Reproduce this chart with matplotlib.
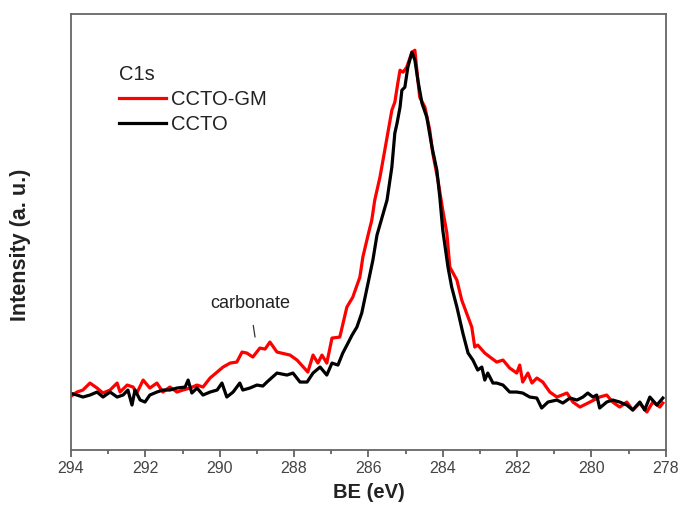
import matplotlib
matplotlib.use('Agg')
import matplotlib.pyplot as plt
from matplotlib.ticker import MultipleLocator

plt.rcParams['font.family'] = ['Liberation Sans', 'DejaVu Sans']

# C1s spectra (BE in eV, intensity in arbitrary units)
be_gm = [294.03, 293.84, 293.68, 293.49, 293.30, 293.14, 292.95, 292.76, 292.68, 292.49,
         292.33, 292.23, 292.06, 291.88, 291.69, 291.53, 291.34, 291.15, 290.99, 290.80,
         290.61, 290.45, 290.26, 290.07, 289.91, 289.72, 289.54, 289.40, 289.27, 289.11,
         288.92, 288.78, 288.65, 288.46, 288.11, 287.92, 287.63, 287.49, 287.36, 287.25,
         287.12, 286.98, 286.77, 286.58, 286.42, 286.23, 286.15, 286.01, 285.91, 285.83,
         285.69, 285.56, 285.37, 285.29, 285.21, 285.15, 285.07, 284.97, 284.83, 284.75,
         284.67, 284.62, 284.48, 284.35, 284.27, 284.13, 284.00, 283.89, 283.81, 283.62,
         283.49, 283.32, 283.22, 283.14, 283.06, 282.87, 282.73, 282.55, 282.38, 282.20,
         282.01, 281.93, 281.85, 281.71, 281.60, 281.47, 281.31, 281.12, 280.93, 280.66,
         280.50, 280.31, 280.04, 279.78, 279.59, 279.43, 279.24, 279.05, 278.89, 278.70,
         278.51, 278.35, 278.16, 278.08]
int_gm = [53, 58, 60, 67, 62, 57, 60, 67, 58, 65,
          63, 57, 70, 62, 67, 58, 63, 58, 60, 62,
          65, 63, 72, 78, 83, 87, 88, 98, 97, 93,
          102, 101, 108, 98, 95, 90, 78, 95, 87, 95,
          87, 112, 113, 143, 153, 173, 193, 215, 230, 250,
          273, 300, 340, 348, 367, 380, 378, 383, 398, 400,
          370, 353, 343, 320, 297, 270, 240, 217, 183, 170,
          150, 133, 123, 103, 105, 97, 93, 88, 90, 82,
          77, 85, 68, 77, 67, 72, 68, 58, 53, 57,
          48, 43, 48, 53, 55, 48, 43, 48, 40, 47,
          38, 48, 43, 47]

be_ccto = [294.03, 293.84, 293.68, 293.49, 293.30, 293.14, 292.95, 292.76, 292.60, 292.47,
           292.36, 292.28, 292.14, 292.01, 291.88, 291.69, 291.53, 291.34, 291.15, 290.93,
           290.85, 290.75, 290.61, 290.45, 290.26, 290.07, 289.94, 289.81, 289.64, 289.46,
           289.38, 289.19, 289.00, 288.84, 288.73, 288.46, 288.19, 288.03, 287.84, 287.65,
           287.49, 287.30, 287.12, 286.98, 286.82, 286.69, 286.55, 286.44, 286.31, 286.18,
           286.01, 285.88, 285.77, 285.50, 285.37, 285.29, 285.23, 285.15, 285.10, 285.02,
           284.94, 284.83, 284.75, 284.67, 284.56, 284.43, 284.29, 284.16, 284.08, 284.00,
           283.86, 283.76, 283.62, 283.46, 283.32, 283.19, 283.06, 282.95, 282.87, 282.79,
           282.65, 282.55, 282.38, 282.20, 282.01, 281.85, 281.66, 281.47, 281.34, 281.17,
           280.93, 280.77, 280.58, 280.39, 280.23, 280.10, 279.96, 279.86, 279.78, 279.59,
           279.43, 279.24, 279.05, 278.89, 278.70, 278.57, 278.43, 278.24, 278.08]
int_ccto = [57, 55, 53, 55, 58, 53, 58, 53, 55, 60,
            45, 60, 50, 48, 55, 58, 60, 60, 62, 63,
            70, 57, 62, 55, 58, 60, 67, 53, 58, 67,
            60, 62, 65, 64, 68, 77, 75, 77, 68, 68,
            77, 83, 75, 87, 85, 97, 107, 115, 123, 137,
            167, 190, 215, 250, 283, 317, 327, 343, 360, 363,
            383, 398, 390, 370, 347, 333, 303, 280, 253, 220,
            183, 163, 143, 117, 97, 90, 80, 83, 70, 77,
            67, 67, 65, 58, 58, 57, 53, 52, 42, 48,
            50, 47, 52, 50, 53, 57, 53, 55, 42, 48,
            50, 48, 45, 40, 48, 40, 53, 45, 52]

fig = plt.figure(figsize=(6.79, 5.2), dpi=100)
ax = fig.add_axes([0.1046, 0.1346, 0.876, 0.838])

ax.plot(be_gm, int_gm, color='#ff0000', lw=2.3, label='CCTO-GM')
ax.plot(be_ccto, int_ccto, color='black', lw=2.3, label='CCTO')

ax.set_xlim(294, 278)
ax.set_ylim(0, 436)
ax.xaxis.set_major_locator(MultipleLocator(2))
ax.xaxis.set_minor_locator(MultipleLocator(1))
ax.set_yticks([])
ax.tick_params(axis='x', which='major', direction='out', length=5, width=1.2,
               color='#555555', labelsize=11.5, labelcolor='#444444', pad=3)
ax.tick_params(axis='x', which='minor', direction='out', length=3, width=1.2, color='#555555')
for s in ax.spines.values():
    s.set_color('#666666')
    s.set_linewidth(1.3)

ax.set_xlabel('BE (eV)', fontsize=14.5, fontweight='bold', color='#222222', labelpad=5)
ax.set_ylabel('Intensity (a. u.)', fontsize=15.5, fontweight='bold', color='#222222')
ax.yaxis.set_label_coords(-0.068, 0.47)

leg = ax.legend(title='C1s', loc='upper left', bbox_to_anchor=(0.05, 0.925), frameon=False,
                fontsize=14.5, title_fontsize=14.5, handlelength=2.35, handletextpad=0.25,
                labelspacing=0.3, alignment='left', labelcolor='#222222')
leg.get_title().set_color('#222222')

ax.annotate('carbonate', xy=(289.05, 113), xytext=(289.19, 147), ha='center', va='center',
            fontsize=13, color='#222222',
            arrowprops=dict(arrowstyle='-', color='#333333', lw=0.9, shrinkA=8, shrinkB=0))

fig.savefig('out.png', dpi=100)
